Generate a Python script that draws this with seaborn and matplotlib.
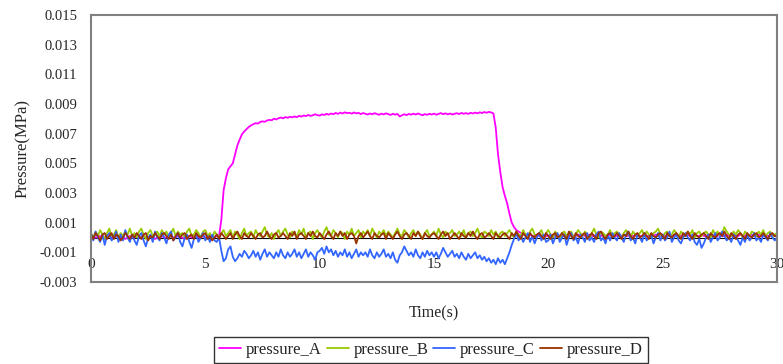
import matplotlib
matplotlib.use('Agg')
import matplotlib.pyplot as plt
import numpy as np
import pandas as pd
import seaborn as sns

sns.set_style('white')
plt.rcParams['font.family'] = ['Liberation Serif', 'DejaVu Serif']

# sample times, every 0.1 s from 0 to 30 s
time_s = np.round(np.arange(301) * 0.1, 1)

# pressures, in units of 1e-4 MPa (one row = one second)
pressure_A = [
    0, 1, 0, 0, 1, 0, -1, 0, 1, 0,
    0, 1, 1, 0, 0, -1, 0, 1, 0, 0,
    1, 0, 0, 1, 0, 0, 1, 0, -1, 0,
    0, 1, 0, 0, 1, 1, 0, 0, 1, 0,
    0, -1, 0, 1, 0, 0, 1, 0, 0, 1,
    0, 0, 1, 0, 0, 1, 1, 12, 32, 40,
    46, 48, 50, 56, 62, 66, 69.5, 71.5, 73, 74.5,
    75.6, 76.4, 77.1, 76.8, 77.9, 78.3, 78.0, 78.9, 79.3, 79.0,
    80.1, 79.6, 80.4, 80.9, 80.3, 81.2, 80.7, 81.4, 81.0, 81.6,
    81.1, 82.0, 81.5, 82.3, 81.8, 82.6, 82.0, 82.4, 83.1, 82.5,
    82.2, 83.0, 82.6, 83.4, 82.8, 83.6, 83.1, 84.0, 83.3, 84.2,
    83.6, 84.4, 83.8, 84.1, 83.5, 84.3, 83.7, 84.0, 83.2, 83.9,
    83.4, 82.9, 83.6, 83.1, 83.8, 83.3, 82.7, 83.5, 83.0, 83.7,
    83.2, 82.6, 83.4, 82.8, 83.3, 81.6, 82.4, 83.1, 82.5, 83.3,
    82.8, 83.5, 82.9, 83.6, 83.0, 82.4, 83.2, 82.7, 83.4, 82.9,
    83.5, 82.8, 83.3, 83.9, 83.1, 83.7, 83.0, 83.6, 82.9, 83.4,
    83.8, 83.2, 84.0, 83.4, 83.9, 83.3, 84.1, 83.6, 84.2, 83.7,
    84.4, 83.9, 84.6, 84.1, 84.7, 84.3, 83.6, 74.0, 56.0, 44.0,
    34.0, 28.0, 23.0, 16.0, 10.0, 7.0, 5.0, 4.0, 3.0, 2.0,
    2, 1, 2, 1, 1, 2, 1, 1, 2, 1,
    1, 2, 1, 1, 2, 1, 1, 2, 1, 1,
    2, 1, 1, 2, 1, 2, 1, 1, 2, 1,
    1, 2, 1, 1, 2, 1, 1, 2, 2, 1,
    1, 2, 1, 2, 1, 1, 2, 1, 1, 2,
    1, 1, 2, 1, 1, 2, 1, 2, 1, 1,
    2, 1, 1, 2, 1, 1, 2, 1, 1, 2,
    1, 2, 1, 1, 2, 1, 1, 2, 1, 1,
    2, 1, 1, 2, 1, 2, 1, 1, 2, 1,
    1, 2, 1, 1, 2, 1, 1, 2, 1, 2,
    1, 1, 2, 1, 1, 2, 1, 1, 2, 1,
    1,
]

pressure_B = [
    3, 0, 4, 1, 5, 2, -1, 3, 6, 1,
    2, 5, 0, 3, 1, 4, 2, 6, 1, 3,
    0, 4, 6, 2, -1, 3, 5, 1, 2, 4,
    1, 5, 2, 4, 0, 3, 6, 1, 4, 2,
    3, 0, 4, 6, 1, 2, 5, 3, 0, 4,
    5, 1, 3, -1, 4, 2, 0, 3, 5, 1,
    3, 5, 0, 4, 2, -1, 3, 6, 1, 3,
    4, 0, 5, 2, 1, 4, 7, 2, 0, 3,
    -1, 3, 5, 1, 4, 6, 2, 0, 4, 2,
    1, 5, 2, 6, 0, 3, 4, -1, 3, 5,
    2, 0, 4, 7, 2, 1, 5, 3, 0, 4,
    3, -1, 4, 2, 6, 1, 3, 5, 0, 4,
    2, 5, 1, 6, 3, 0, 4, 2, 5, 1,
    4, 2, 0, 3, 6, 2, 1, 5, 3, 0,
    3, 5, 1, 4, 2, -1, 3, 5, 1, 2,
    4, 1, 6, 2, 0, 4, 2, 3, 5, 1,
    2, 4, 1, 5, 0, 3, 4, 1, 3, 6,
    2, 0, 4, 3, 1, 5, 2, 4, 0, 3,
    4, 1, 3, 5, 2, 0, 4, 2, 1, 5,
    2, 0, 4, 6, 2, 1, 3, 5, 0, 3,
    5, 2, 0, 4, 2, -1, 3, 4, 1, 3,
    4, 0, 2, 5, 3, 1, 4, 2, -1, 3,
    6, 2, 0, 4, 3, 1, 2, 5, 1, 3,
    4, 2, 0, 3, 5, 2, 0, 4, 2, 1,
    3, 5, 1, 4, 2, 0, 3, 4, 6, 2,
    0, 3, 4, 1, 2, 5, 3, 0, 4, 2,
    1, 4, 2, 5, 0, 3, 4, 1, 3, 4,
    2, 0, 5, 2, 4, 1, 3, 7, 4, 2,
    1, 4, 2, 5, 3, 0, 4, 2, 1, 4,
    3, 1, 4, 2, 5, 1, 3, 4, 0, 2,
    3,
]

pressure_C = [
    3, -2, 4, 0, -3, 2, -5, 1, 3, -2,
    0, 4, -3, 2, -2, 5, 0, -3, 2, -2,
    -5, 1, 3, -2, -6, 0, 2, -3, 4, 0,
    -2, 3, 0, -4, 2, 4, -2, 0, 3, -3,
    -6, 0, 2, -3, -7, -1, 2, -3, 0, 3,
    -2, 1, -3, 2, -2, -3, 0, -9, -16, -14,
    -8, -6, -13, -16, -14, -11, -13, -9, -11, -14,
    -12, -9, -13, -10, -15, -11, -8, -13, -10, -12,
    -14, -10, -13, -8, -12, -14, -10, -13, -11, -8,
    -13, -10, -14, -11, -8, -13, -10, -12, -15, -10,
    -9, -7, -11, -6, -10, -8, -12, -9, -13, -10,
    -12, -8, -13, -10, -14, -11, -8, -13, -10, -12,
    -10, -13, -8, -12, -14, -10, -13, -11, -8, -13,
    -11, -14, -10, -15, -17, -12, -10, -6, -9, -12,
    -10, -13, -8, -12, -14, -10, -13, -9, -12, -10,
    -13, -10, -14, -11, -7, -10, -13, -11, -9, -13,
    -11, -14, -10, -13, -15, -11, -14, -12, -10, -14,
    -12, -15, -13, -16, -14, -17, -15, -18, -14, -17,
    -15, -18, -14, -10, -5, -1, 3, -2, 1, -3,
    0, 3, -3, 1, -4, 0, 3, -2, 2, -3,
    -2, 2, -4, 0, 3, -3, 0, 2, -5, 0,
    3, -2, 0, -4, 2, 0, -3, 3, -2, 0,
    -3, 2, 4, -2, 0, -4, 2, -2, 3, 0,
    -2, 3, 0, -3, 2, 4, -2, 0, -4, 2,
    0, -3, 3, -2, 0, 2, -4, 0, 3, -2,
    2, -2, 0, 4, -3, 0, 2, -2, -4, 0,
    3, 0, -2, 2, -3, -5, -1, -7, -4, 0,
    2, -3, 0, 3, -2, 0, 4, 1, -2, 0,
    -3, 2, 0, -2, -5, 0, -3, 2, -2, 0,
    3, -2, 0, -3, 2, 0, -2, 3, 0, -2,
    0,
]

pressure_D = [
    2, -1, 3, 1, -2, 2, 3, -1, 1, 3,
    -1, 2, 1, -2, 0, 3, 1, -1, 2, 0,
    3, 1, -1, 2, 3, -2, 1, 0, 3, 1,
    -1, 2, 3, 1, -1, 2, -2, 1, 3, 0,
    2, 3, -1, 1, 2, -1, 3, 1, 0, 2,
    3, -1, 1, -2, 0, 2, -1, 3, 1, -1,
    1, 3, -1, 2, 4, 1, -1, 3, 1, 0,
    3, 1, -1, 2, 3, 0, 1, 4, 1, -1,
    2, 3, 0, 1, 3, 1, -1, 3, 1, 4,
    -1, 2, 3, 1, -1, 3, 1, 4, 1, 0,
    3, 1, -1, 2, 4, 1, -1, 3, 1, 4,
    1, 3, -1, 2, 3, 1, -4, 1, 3, 0,
    2, 4, 1, -1, 3, 1, 0, 2, 3, -1,
    3, 1, -1, 2, 4, 1, -1, 2, 3, 1,
    -1, 3, 1, 4, 1, -1, 3, 1, 0, 2,
    3, 1, -1, 2, 4, 1, 3, -1, 1, 3,
    1, -1, 3, 1, 0, 3, 1, 4, 1, -1,
    2, 3, 0, 1, 3, 1, -1, 3, 1, 0,
    2, 3, 1, -1, 3, 1, 4, 1, -1, 3,
    1, -1, 3, 1, 0, 2, 3, 1, -1, 3,
    1, -1, 2, 3, 0, 1, 3, 1, -1, 4,
    1, -1, 3, 1, 0, 2, 3, -1, 1, 3,
    1, -1, 3, 4, 1, -1, 2, 3, 0, 1,
    3, 1, -1, 2, 1, 4, 1, -1, 2, 3,
    0, 1, 3, 1, -1, 3, 1, 0, 2, 3,
    1, -1, 3, 1, 0, 2, 3, 1, -1, 3,
    1, 4, 1, -1, 3, 1, 0, 2, 3, 1,
    -1, 3, 1, 0, 2, 3, 1, 4, 1, -1,
    3, 1, -1, 2, 3, 1, -1, 3, 1, 0,
    2, 3, 0, 1, 3, 1, -1, 2, 3, 1,
    1,
]

series_names = ['pressure_A', 'pressure_B', 'pressure_C', 'pressure_D']
series_colors = ['#FF00FF', '#99CC00', '#3366FF', '#993300']
y_ticks = [-0.003, -0.001, 0.001, 0.003, 0.005, 0.007, 0.009, 0.011, 0.013, 0.015]
y_tick_labels = ['-0.003', '-0.001', '0.001', '0.003', '0.005', '0.007',
                 '0.009', '0.011', '0.013', '0.015']
x_ticks = [0, 5, 10, 15, 20, 25, 30]

frames = []
for name, vals in zip(series_names, [pressure_A, pressure_B, pressure_C, pressure_D]):
    assert len(vals) == len(time_s), (name, len(vals))
    frames.append(pd.DataFrame({'time': time_s,
                                'pressure': np.array(vals, dtype=float) * 1e-4,
                                'series': name}))
df = pd.concat(frames, ignore_index=True)

fig = plt.figure(figsize=(7.83, 3.64), dpi=100)
ax = fig.add_axes([91 / 783, 1 - 282 / 364, 686 / 783, 267 / 364])

sns.lineplot(data=df, x='time', y='pressure', hue='series', palette=series_colors,
             estimator=None, sort=False, linewidth=1.3, ax=ax)

ax.set_xlim(0, 30)
ax.set_ylim(-0.003, 0.015)

for sp in ax.spines.values():
    sp.set_color('#808080')
    sp.set_linewidth(1.5)

ax.set_yticks(y_ticks)
ax.set_yticklabels(y_tick_labels)
ax.tick_params(axis='y', direction='out', length=4, width=1, color='black',
               pad=6, labelsize=10.5)
ax.set_xticks([])
ax.set_xlabel('')
ax.set_ylabel('Pressure(MPa)', fontsize=12)
ax.yaxis.set_label_coords(-0.088, 0.5)

# horizontal axis crossing at zero
ax.axhline(0, color='black', linewidth=0.8, zorder=1)
secx = ax.secondary_xaxis(1 / 6)
secx.set_xticks(x_ticks)
secx.set_xticklabels([str(v) for v in x_ticks])
secx.tick_params(length=0, pad=15, labelsize=11)
secx.spines['bottom'].set_visible(False)

fig.text(434 / 783, 1 - 313 / 364, 'Time(s)', ha='center', va='center', fontsize=11.5)

handles, labels = ax.get_legend_handles_labels()
ax.get_legend().remove()
leg = fig.legend(handles, labels, ncol=4, loc='upper center',
                 bbox_to_anchor=(431 / 783, 1 - 337 / 364), frameon=True,
                 fancybox=False, edgecolor='black', fontsize=12,
                 handlelength=1.3, columnspacing=0.3, handletextpad=0.3,
                 borderpad=0.3, borderaxespad=0)
leg.get_frame().set_linewidth(1.0)

fig.savefig('out.png', dpi=100)
